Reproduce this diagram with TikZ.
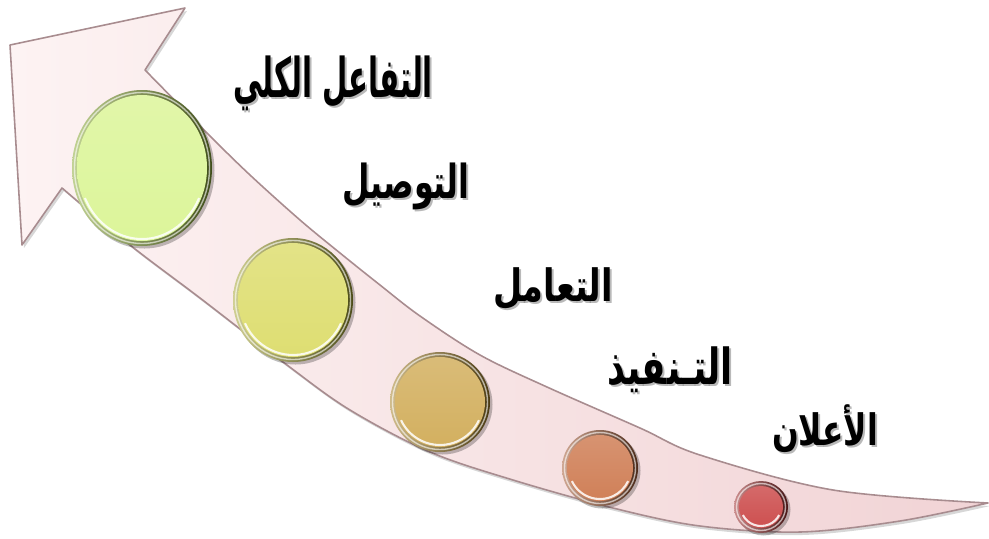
\documentclass[tikz,border=0pt]{standalone}
\usepackage{graphicx}
\usepackage{fontspec}
\newfontfamily\arabicfont[Script=Arabic]{DejaVu Sans}
\TeXXeTstate=1
\usetikzlibrary{calc}
\definecolor{arrowL}{HTML}{FDF3F3}
\definecolor{arrowR}{HTML}{F1D3D5}
\definecolor{arrowline}{HTML}{A88C8F}
\definecolor{face1}{HTML}{DCF59A}\definecolor{rim1}{HTML}{8FAE3C}
\definecolor{face2}{HTML}{DEDE72}\definecolor{rim2}{HTML}{A9A838}
\definecolor{face3}{HTML}{D3B060}\definecolor{rim3}{HTML}{A8842C}
\definecolor{face4}{HTML}{D08058}\definecolor{rim4}{HTML}{A85F3A}
\definecolor{face5}{HTML}{CD4F4F}\definecolor{rim5}{HTML}{A03030}
\begin{document}
\begin{tikzpicture}[x=0.02cm,y=-0.02cm,
  lbl/.style={inner sep=0pt, font=\arabicfont\bfseries, text=black},
  lblshadow/.style={inner sep=0pt, font=\arabicfont\bfseries, text=black!50, opacity=.55}]
\useasboundingbox (0,0) rectangle (989,538);
\def\arrowpath{(10,45) -- (185,8) -- (145,70)
  -- plot[smooth, tension=0.55] coordinates {(145,70) (207,133) (250,175) (300,220) (340,253) (380,285) (420,316) (480,355) (547,387) (640,428) (700,455) (833,490) (988,503)}
  -- plot[smooth, tension=0.55] coordinates {(988,503) (900,521) (800,532) (700,526) (613,508) (513,480) (430,452) (350,410) (287,365) (200,298) (130,245) (62,188)}
  -- (22,245) -- cycle}
\fill[black!45, opacity=.35, shift={(2,3)}] \arrowpath;
\shade[left color=arrowL, right color=arrowR] \arrowpath;
\draw[arrowline, line width=0.9pt, line join=round] \arrowpath;
\foreach \n/\x/\y/\rx/\ry/\fc/\rc in {
  c1/142/168/70/78/face1/rim1,
  c2/293/300/60/62/face2/rim2,
  c3/440/402/50/50/face3/rim3,
  c4/600/468/38/38/face4/rim4,
  c5/761/507/27/26/face5/rim5}{
  \coordinate (\n) at (\x,\y);
  \fill[black, opacity=.25] ($(\n)+(2.5,2.5)$) ellipse ({\rx*0.02cm} and {\ry*0.02cm});
  \shade[left color=\rc!55!white, right color=\rc!45!black] (\n) ellipse ({\rx*0.02cm} and {\ry*0.02cm});
  \draw[white, opacity=.6, line width=0.8pt] (\n) ellipse ({(\rx-2.5)*0.02cm} and {(\ry-2.5)*0.02cm});
  \shade[top color=\fc!85!white, bottom color=\fc] (\n) ellipse ({(\rx-5)*0.02cm} and {(\ry-5)*0.02cm});
  \draw[white, opacity=.85, line width=1.2pt] ([shift={(205:{(\rx-7)*0.02cm} and {(\ry-7)*0.02cm})}]\n) arc[start angle=205, end angle=335, x radius={(\rx-7)*0.02cm}, y radius={(\ry-7)*0.02cm}];
}
\node[lblshadow] (t1s) at (335,85) {\resizebox*{4.0cm}{1.10cm}{\beginR التفاعل الكلي\endR}};
\node[lbl] (t1) at (333,83) {\resizebox*{4.0cm}{1.10cm}{\beginR التفاعل الكلي\endR}};
\node[lblshadow] (t2s) at (408,188) {\resizebox*{2.54cm}{0.94cm}{\beginR التوصيل\endR}};
\node[lbl] (t2) at (406,186) {\resizebox*{2.54cm}{0.94cm}{\beginR التوصيل\endR}};
\node[lblshadow] (t3s) at (555,291) {\resizebox*{2.4cm}{0.84cm}{\beginR التعامل\endR}};
\node[lbl] (t3) at (553,289) {\resizebox*{2.4cm}{0.84cm}{\beginR التعامل\endR}};
\node[lblshadow] (t4s) at (672,372) {\resizebox*{2.52cm}{0.92cm}{\beginR التـنفيذ\endR}};
\node[lbl] (t4) at (670,370) {\resizebox*{2.52cm}{0.92cm}{\beginR التـنفيذ\endR}};
\node[lblshadow] (t5s) at (827,431) {\resizebox*{2.12cm}{0.96cm}{\beginR الأعلان\endR}};
\node[lbl] (t5) at (825,429) {\resizebox*{2.12cm}{0.96cm}{\beginR الأعلان\endR}};
\end{tikzpicture}
\end{document}
